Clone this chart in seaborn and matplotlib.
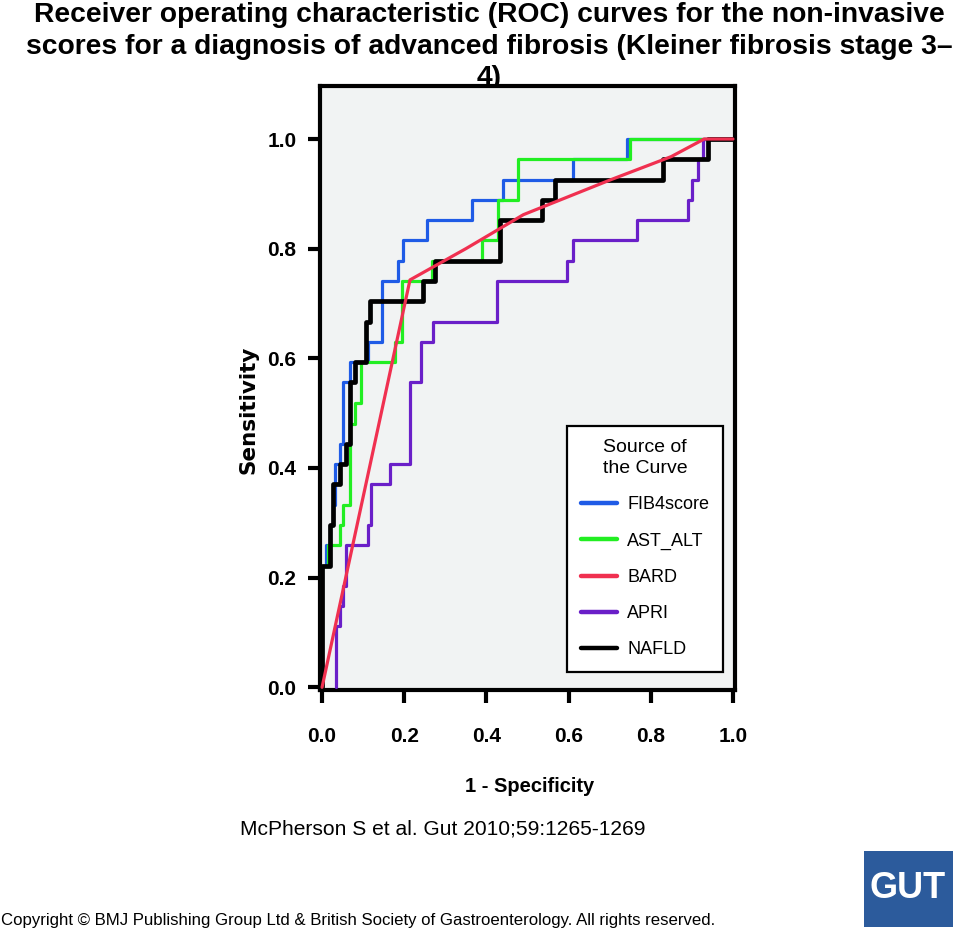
import matplotlib
matplotlib.use('Agg')
import matplotlib.pyplot as plt
import seaborn as sns
import pandas as pd
from matplotlib.patches import Rectangle
from matplotlib.font_manager import FontProperties

# ---------------- data (ROC step corners: 1 - specificity, sensitivity) -------------
scores = ['FIB4score', 'AST_ALT', 'BARD', 'APRI', 'NAFLD']
colors = ['#1F5BE6', '#22EE22', '#F03050', '#6A1FC8', '#000000']

fib4_fpr = [0, 0, 0.010, 0.010, 0.020, 0.020, 0.027, 0.027, 0.032, 0.032, 0.044, 0.044,
            0.050, 0.050, 0.068, 0.068, 0.112, 0.112, 0.146, 0.146, 0.185, 0.185, 0.197,
            0.197, 0.255, 0.255, 0.365, 0.365, 0.440, 0.440, 0.610, 0.610, 0.742, 0.742, 1.0]
fib4_tpr = [0, 0.222, 0.222, 0.259, 0.259, 0.296, 0.296, 0.333, 0.333, 0.407, 0.407, 0.444,
            0.444, 0.556, 0.556, 0.593, 0.593, 0.630, 0.630, 0.741, 0.741, 0.778, 0.778,
            0.815, 0.815, 0.852, 0.852, 0.889, 0.889, 0.926, 0.926, 0.963, 0.963, 1.0, 1.0]

astalt_fpr = [0, 0, 0.015, 0.015, 0.044, 0.044, 0.051, 0.051, 0.068, 0.068, 0.080, 0.080,
              0.095, 0.095, 0.178, 0.178, 0.195, 0.195, 0.267, 0.267, 0.389, 0.389, 0.429,
              0.429, 0.477, 0.477, 0.750, 0.750, 1.0]
astalt_tpr = [0, 0.222, 0.222, 0.259, 0.259, 0.296, 0.296, 0.333, 0.333, 0.481, 0.481, 0.519,
              0.519, 0.593, 0.593, 0.630, 0.630, 0.741, 0.741, 0.778, 0.778, 0.815, 0.815,
              0.889, 0.889, 0.963, 0.963, 1.0, 1.0]

bard_fpr = [0, 0.214, 0.350, 0.490, 0.700, 0.850, 0.930, 1.0]
bard_tpr = [0, 0.743, 0.800, 0.862, 0.925, 0.968, 1.0, 1.0]

apri_fpr = [0.034, 0.034, 0.044, 0.044, 0.051, 0.051, 0.058, 0.058, 0.112, 0.112, 0.120,
            0.120, 0.165, 0.165, 0.214, 0.214, 0.241, 0.241, 0.270, 0.270, 0.426, 0.426,
            0.596, 0.596, 0.611, 0.611, 0.766, 0.766, 0.890, 0.890, 0.900, 0.900, 0.915,
            0.915, 0.927, 0.927, 1.0]
apri_tpr = [0, 0.111, 0.111, 0.148, 0.148, 0.185, 0.185, 0.259, 0.259, 0.296, 0.296,
            0.370, 0.370, 0.407, 0.407, 0.556, 0.556, 0.630, 0.630, 0.667, 0.667, 0.741,
            0.741, 0.778, 0.778, 0.815, 0.815, 0.852, 0.852, 0.889, 0.889, 0.926, 0.926,
            0.963, 0.963, 1.0, 1.0]

nafld_fpr = [0, 0, 0.020, 0.020, 0.027, 0.027, 0.044, 0.044, 0.058, 0.058, 0.069, 0.069,
             0.080, 0.080, 0.108, 0.108, 0.117, 0.117, 0.246, 0.246, 0.275, 0.275, 0.433,
             0.433, 0.535, 0.535, 0.567, 0.567, 0.830, 0.830, 0.940, 0.940, 1.0]
nafld_tpr = [0, 0.222, 0.222, 0.296, 0.296, 0.370, 0.370, 0.407, 0.407, 0.444, 0.444, 0.556,
             0.556, 0.593, 0.593, 0.667, 0.667, 0.704, 0.704, 0.741, 0.741, 0.778, 0.778,
             0.852, 0.852, 0.889, 0.889, 0.926, 0.926, 0.963, 0.963, 1.0, 1.0]

x_ticks = [0.0, 0.2, 0.4, 0.6, 0.8, 1.0]
y_ticks = [0.0, 0.2, 0.4, 0.6, 0.8, 1.0]
tick_labels = ['0.0', '0.2', '0.4', '0.6', '0.8', '1.0']

title_text = ("Receiver operating characteristic (ROC) curves for the non-invasive\n"
              "scores for a diagnosis of advanced fibrosis (Kleiner fibrosis stage 3\u2013\n4)")
citation = "McPherson S et al. Gut 2010;59:1265-1269"
copyright_text = ("Copyright \u00a9 BMJ Publishing Group Ltd & British Society of "
                  "Gastroenterology. All rights reserved.")

# ---------------- build long table ----------------
series = {
    'FIB4score': (fib4_fpr, fib4_tpr),
    'AST_ALT': (astalt_fpr, astalt_tpr),
    'BARD': (bard_fpr, bard_tpr),
    'APRI': (apri_fpr, apri_tpr),
    'NAFLD': (nafld_fpr, nafld_tpr),
}
rows = []
for name, (fx, ty) in series.items():
    for i, (a, b) in enumerate(zip(fx, ty)):
        rows.append({'score': name, 'fpr': a, 'tpr': b, 'order': i})
df = pd.DataFrame(rows)

# ---------------- styling ----------------
sns.set_style('white')
SANS = ['Liberation Sans', 'DejaVu Sans']
plt.rcParams['font.family'] = SANS
for k in ['text.color', 'axes.labelcolor', 'xtick.color', 'ytick.color']:
    plt.rcParams[k] = 'black'

fig = plt.figure(figsize=(9.6, 9.31), dpi=100)
fig.patch.set_facecolor('white')
ax = fig.add_axes([320 / 960, 1 - 690 / 931, 415 / 960, 604 / 931])
ax.set_facecolor('#F1F3F3')

widths = {'FIB4score': 2.3, 'AST_ALT': 2.3, 'BARD': 2.3, 'APRI': 2.3, 'NAFLD': 3.4}
zorders = {'FIB4score': 3, 'AST_ALT': 4, 'BARD': 7, 'APRI': 5, 'NAFLD': 6}
for name, col in zip(scores, colors):
    sub = df[df['score'] == name].sort_values('order')
    sns.lineplot(data=sub, x='fpr', y='tpr', sort=False, estimator=None,
                 color=col, linewidth=widths[name], ax=ax, label=name,
                 zorder=zorders[name])

ax.set_xlim(-0.005, 1.005)
ax.set_ylim(-0.005, (687 - 86) / 548)
ax.set_xticks(x_ticks)
ax.set_xticklabels(tick_labels)
ax.set_yticks(y_ticks)
ax.set_yticklabels(tick_labels)

for s in ax.spines.values():
    s.set_visible(True)
    s.set_color('black')
    s.set_linewidth(3)

ax.tick_params(axis='both', which='major', direction='out', length=9, width=3,
               color='black', labelcolor='black', labelsize=15,
               bottom=True, left=True, top=False, right=False)
ax.tick_params(axis='x', pad=18)
ax.tick_params(axis='y', pad=8)
for lab in ax.get_xticklabels() + ax.get_yticklabels():
    lab.set_fontweight('bold')

ax.set_xlabel('1 - Specificity', fontsize=14.5, fontweight='bold', va='top', color='black')
ax.xaxis.set_label_coords((530 - 320) / 415, (690 - 777) / 604)
ax.set_ylabel('Sensitivity', fontsize=15.5, fontweight='bold', family=['DejaVu Sans'],
              color='black')
ax.yaxis.set_label_coords((258 - 320) / 415, (690 - 410) / 604)

# legend
handles, labels = ax.get_legend_handles_labels()
order = [labels.index(s) for s in scores]
leg = ax.legend([handles[i] for i in order], [labels[i] for i in order],
                title='Source of\nthe Curve', loc='lower right',
                bbox_to_anchor=((723 - 320) / 415, (690 - 672) / 604),
                frameon=True, fancybox=False, framealpha=1, edgecolor='black',
                facecolor='white', prop=FontProperties(family=SANS, size=13),
                title_fontproperties=FontProperties(family=SANS, size=14),
                handlelength=2.0, handletextpad=0.6, labelspacing=1.07,
                borderpad=0.75, borderaxespad=0)
leg.get_title().set_linespacing(1.25)
leg.get_frame().set_linewidth(1.6)
for h in leg.get_lines():
    h.set_linewidth(3.2)

# title (sits behind the plot panel, which hides part of last line)
fig.text(489 / 960, 1 - 2.5 / 931, title_text, ha='center', va='top', fontsize=20.3,
         fontweight='bold', linespacing=1.27, zorder=-1)

fig.text(240 / 960, 1 - 829 / 931, citation, ha='left', va='center', fontsize=15.1)
fig.text(1 / 960, 1 - 920 / 931, copyright_text, ha='left', va='center', fontsize=12.1)

# GUT logo block
fig.patches.append(Rectangle((864 / 960, 1 - 927 / 931), 89 / 960, 76 / 931,
                             transform=fig.transFigure, facecolor='#2C5B9C',
                             edgecolor='none', zorder=1))
fig.text(908 / 960, 1 - 889 / 931, 'GUT', ha='center', va='center', color='white',
         fontsize=26, fontweight='bold', zorder=2)

fig.savefig('out.png', dpi=100, facecolor='white')
